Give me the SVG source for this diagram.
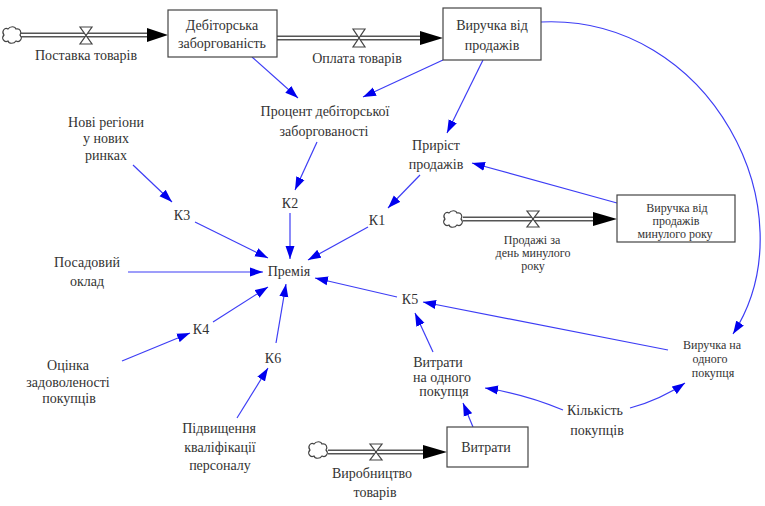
<svg xmlns="http://www.w3.org/2000/svg" width="765" height="506" viewBox="0 0 765 506" font-family="Liberation Serif, Times New Roman, DejaVu Serif, serif">
<style>
text{font-size:14px;fill:#333;text-anchor:middle}
.sm{font-size:12px}
.stock{fill:#fff;stroke:#444;stroke-width:1.2}
.link{fill:none;stroke:#3d3df5;stroke-width:1.2}
.pipeo{fill:none;stroke:#555;stroke-width:5}
.pipei{fill:none;stroke:#fff;stroke-width:2}
.valve{fill:#fff;stroke:#444;stroke-width:1.2}
.cloud{fill:#fff;stroke:#444;stroke-width:1.2}
.head{fill:#000}
</style>
<defs>
<marker id="ab" markerUnits="userSpaceOnUse" markerWidth="14" markerHeight="10" refX="13" refY="5" orient="auto">
<path d="M0,0.5 L13,5 L0,9.5 Z" fill="#0000ee"/>
</marker>
<path id="cl" d="M-4,-6 C-2,-9 3,-9 4,-6 C8,-7 10,-3 8,0 C11,3 8,8 4,6 C2,9 -3,9 -4,6 C-8,8 -11,3 -8,0 C-11,-4 -7,-8 -4,-6 Z"/>
</defs>

<g id="connectors">
<line class="link" x1="252" y1="57" x2="298" y2="98" marker-end="url(#ab)"/>
<line class="link" x1="443" y1="60" x2="363" y2="97" marker-end="url(#ab)"/>
<line class="link" x1="483" y1="60" x2="447" y2="133" marker-end="url(#ab)"/>
<line class="link" x1="617" y1="203" x2="472" y2="163" marker-end="url(#ab)"/>
<line class="link" x1="317" y1="142" x2="295" y2="190" marker-end="url(#ab)"/>
<line class="link" x1="420" y1="175" x2="388" y2="208" marker-end="url(#ab)"/>
<line class="link" x1="133" y1="165" x2="172" y2="202" marker-end="url(#ab)"/>
<line class="link" x1="195" y1="222" x2="268" y2="258" marker-end="url(#ab)"/>
<line class="link" x1="290" y1="213" x2="290" y2="259" marker-end="url(#ab)"/>
<line class="link" x1="128" y1="272" x2="263" y2="272" marker-end="url(#ab)"/>
<line class="link" x1="368" y1="227" x2="308" y2="260" marker-end="url(#ab)"/>
<line class="link" x1="397" y1="297" x2="315" y2="278" marker-end="url(#ab)"/>
<line class="link" x1="213" y1="322" x2="268" y2="287" marker-end="url(#ab)"/>
<line class="link" x1="122" y1="361" x2="190" y2="333" marker-end="url(#ab)"/>
<line class="link" x1="276" y1="343" x2="286" y2="284" marker-end="url(#ab)"/>
<line class="link" x1="237" y1="418" x2="268" y2="368" marker-end="url(#ab)"/>
<line class="link" x1="433" y1="352" x2="415" y2="313" marker-end="url(#ab)"/>
<line class="link" x1="668" y1="350" x2="423" y2="302" marker-end="url(#ab)"/>
<line class="link" x1="473" y1="427" x2="463" y2="403" marker-end="url(#ab)"/>
<path class="link" d="M563,410 Q525,394 485,388" marker-end="url(#ab)"/>
<path class="link" d="M630,408 Q660,400 685,383" marker-end="url(#ab)"/>
<path class="link" d="M541,22 C710,14 812,212 733,334" marker-end="url(#ab)"/>
</g>

<g id="flow-postavka">
<use href="#cl" class="cloud" x="12" y="35"/>
<line class="pipeo" x1="21" y1="35" x2="150" y2="35"/>
<line class="pipei" x1="21" y1="35" x2="150" y2="35"/>
<polygon class="head" points="147,28 168,35 147,42"/>
<path class="valve" d="M80,27 H92 L80,44 H92 Z"/>
<text x="86" y="60">Поставка товарів</text>
</g>

<g id="flow-oplata">
<line class="pipeo" x1="277" y1="38" x2="423" y2="38"/>
<line class="pipei" x1="277" y1="38" x2="423" y2="38"/>
<polygon class="head" points="420,31 443,38 420,45"/>
<path class="valve" d="M353,29 H365 L353,47 H365 Z"/>
<text x="357" y="63">Оплата товарів</text>
</g>

<g id="flow-prodazhi">
<use href="#cl" class="cloud" x="453" y="219"/>
<line class="pipeo" x1="463" y1="219" x2="596" y2="219"/>
<line class="pipei" x1="463" y1="219" x2="596" y2="219"/>
<polygon class="head" points="593,212 617,219 593,226"/>
<path class="valve" d="M527,211 H539 L527,227 H539 Z"/>
<text class="sm" x="532" y="244">Продажі за</text>
<text class="sm" x="533" y="257">день минулого</text>
<text class="sm" x="533" y="270">року</text>
</g>

<g id="flow-vyrobnytstvo">
<use href="#cl" class="cloud" x="318" y="450"/>
<line class="pipeo" x1="328" y1="452" x2="426" y2="452"/>
<line class="pipei" x1="328" y1="452" x2="426" y2="452"/>
<polygon class="head" points="423,445 447,452 423,459"/>
<path class="valve" d="M370,444 H382 L370,460 H382 Z"/>
<text x="372" y="478">Виробництво</text>
<text x="375" y="497">товарів</text>
</g>

<g id="stock-debitorska">
<rect class="stock" x="168" y="10" width="109" height="47"/>
<text x="222" y="30">Дебіторська</text>
<text x="222" y="48">заборгованість</text>
</g>

<g id="stock-vyruchka">
<rect class="stock" x="443" y="8" width="98" height="52"/>
<text x="492" y="30">Виручка від</text>
<text x="492" y="50">продажів</text>
</g>

<g id="stock-vyruchka-mynuloho">
<rect class="stock" x="617" y="195" width="118" height="47"/>
<text class="sm" x="677" y="212">Виручка від</text>
<text class="sm" x="676" y="225">продажів</text>
<text class="sm" x="675" y="238">минулого року</text>
</g>

<g id="stock-vytraty">
<rect class="stock" x="447" y="427" width="81" height="40"/>
<text x="486" y="452">Витрати</text>
</g>

<g id="aux-protsent">
<text x="325" y="116">Процент дебіторської</text>
<text x="324" y="136">заборгованості</text>
</g>
<g id="aux-pryrist">
<text x="436" y="150">Приріст</text>
<text x="436" y="169">продажів</text>
</g>
<g id="aux-k2"><text x="290" y="208">К2</text></g>
<g id="aux-k1"><text x="377" y="225">К1</text></g>
<g id="aux-novi">
<text x="106" y="127">Нові регіони</text>
<text x="106" y="143">у нових</text>
<text x="106" y="160">ринках</text>
</g>
<g id="aux-k3"><text x="182" y="220">К3</text></g>
<g id="aux-posadovyi">
<text x="87" y="267">Посадовий</text>
<text x="87" y="286">оклад</text>
</g>
<g id="aux-premiia"><text x="289" y="276">Премія</text></g>
<g id="aux-k4"><text x="201" y="334">К4</text></g>
<g id="aux-k6"><text x="273" y="363">К6</text></g>
<g id="aux-otsinka">
<text x="68" y="370">Оцінка</text>
<text x="68" y="387">задоволеності</text>
<text x="69" y="403">покупців</text>
</g>
<g id="aux-pidvyshchennia">
<text x="219" y="433">Підвищення</text>
<text x="220" y="452">кваліфікації</text>
<text x="220" y="470">персоналу</text>
</g>
<g id="aux-k5"><text x="410" y="304">К5</text></g>
<g id="aux-vytraty-na-odnoho">
<text x="438" y="367">Витрати</text>
<text x="442" y="382">на одного</text>
<text x="444" y="396">покупця</text>
</g>
<g id="aux-vyruchka-na-odnoho">
<text class="sm" x="712" y="349">Виручка на</text>
<text class="sm" x="710" y="363">одного</text>
<text class="sm" x="713" y="377">покупця</text>
</g>
<g id="aux-kilkist">
<text x="595" y="415">Кількість</text>
<text x="597" y="435">покупців</text>
</g>
</svg>
